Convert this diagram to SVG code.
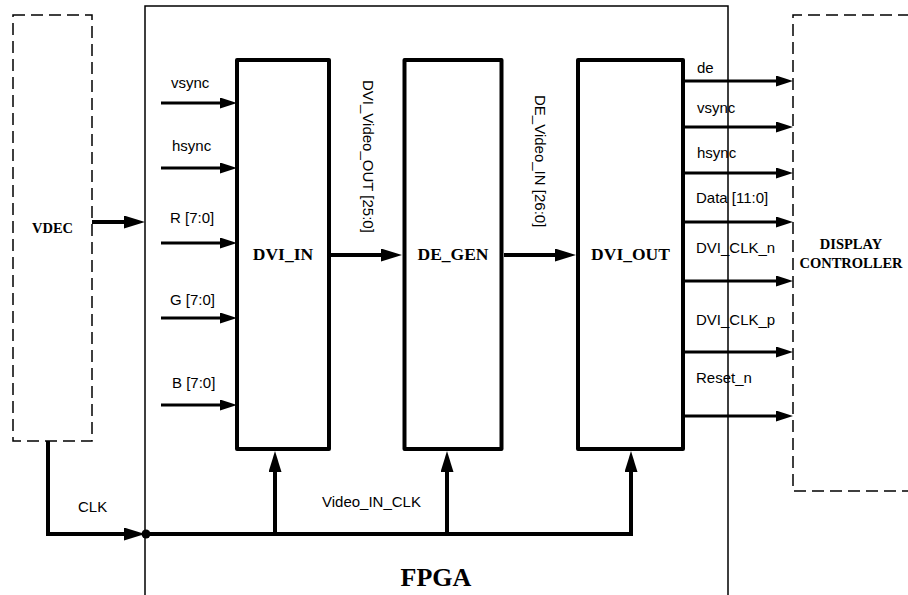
<svg xmlns="http://www.w3.org/2000/svg" width="908" height="595" viewBox="0 0 908 595">
<style>
.lbl{font-family:"Liberation Sans",Arial,sans-serif;font-size:15px;fill:#000}
.bt{font-family:"Liberation Serif","Times New Roman",serif;font-weight:bold;fill:#000}
.dash{fill:none;stroke:#000;stroke-width:1.5;stroke-dasharray:12 6}
.blk{fill:none;stroke:#000;stroke-width:4;stroke-linejoin:round}
.s{fill:none;stroke:#000;stroke-width:3;marker-end:url(#ms)}
.b{fill:none;stroke:#000;stroke-width:4;marker-end:url(#mb)}
.w{fill:none;stroke:#000;stroke-width:4}
</style>
<defs>
<marker id="ms" markerUnits="userSpaceOnUse" markerWidth="17" markerHeight="11" refX="1" refY="5.5" orient="auto"><path d="M0,0 L17,5.5 L0,11 Z" fill="#000"/></marker>
<marker id="mb" markerUnits="userSpaceOnUse" markerWidth="21" markerHeight="13" refX="1" refY="6.5" orient="auto"><path d="M0,0 L21,6.5 L0,13 Z" fill="#000"/></marker>
</defs>
<rect width="908" height="595" fill="#fff"/>

<g id="fpga">
<path d="M145,600 V6 H728 V600" fill="none" stroke="#000" stroke-width="1.5"/>
<text class="bt" x="436" y="586" font-size="26" text-anchor="middle">FPGA</text>
</g>

<g id="vdec">
<rect class="dash" x="13" y="15" width="79" height="426"/>
<text class="bt" x="52.5" y="233" font-size="14.5" text-anchor="middle">VDEC</text>
</g>

<g id="display">
<path class="dash" d="M910,15 H793 V491 H910"/>
<text class="bt" x="851" y="249" font-size="14.5" text-anchor="middle">DISPLAY</text>
<text class="bt" x="851" y="268" font-size="14.5" text-anchor="middle">CONTROLLER</text>
</g>

<g id="dvi_in">
<rect class="blk" x="237" y="60" width="92" height="389"/>
<text class="bt" x="283" y="260" font-size="17.5" text-anchor="middle">DVI_IN</text>
</g>

<g id="de_gen">
<rect class="blk" x="404.5" y="60" width="97" height="389"/>
<text class="bt" x="453" y="260" font-size="17.5" text-anchor="middle">DE_GEN</text>
</g>

<g id="dvi_out">
<rect class="blk" x="578" y="60" width="105" height="389"/>
<text class="bt" x="630.5" y="260" font-size="17.5" text-anchor="middle">DVI_OUT</text>
</g>

<g id="connectors">
<path class="s" d="M161,103 H221"/>
<path class="s" d="M161,168 H221"/>
<path class="s" d="M161,243 H221"/>
<path class="s" d="M161,318 H221"/>
<path class="s" d="M161,405 H221"/>

<path class="b" d="M92,222 H125"/>
<path class="b" d="M331,255 H382"/>
<path class="b" d="M504,255 H556"/>

<path class="s" d="M683,81 H777"/>
<path class="s" d="M683,127 H777"/>
<path class="s" d="M683,173 H777"/>
<path class="s" d="M683,222 H777"/>
<path class="s" d="M683,281 H777"/>
<path class="s" d="M683,352 H777"/>
<path class="s" d="M683,416 H777"/>

<path class="b" d="M48,441 V534 H125"/>
<path class="w" d="M146,534 H633"/>
<path class="b" d="M275,534 V471"/>
<path class="b" d="M447,534 V471"/>
<path class="b" d="M631,534 V471"/>
<circle cx="146" cy="534" r="4.5" fill="#000"/>

<text class="lbl" x="171" y="88">vsync</text>
<text class="lbl" x="172" y="151">hsync</text>
<text class="lbl" x="170" y="223">R [7:0]</text>
<text class="lbl" x="170" y="305">G [7:0]</text>
<text class="lbl" x="172" y="388">B [7:0]</text>

<text class="lbl" transform="translate(363,80) rotate(90)">DVI_Video_OUT [25:0]</text>
<text class="lbl" transform="translate(535,95) rotate(90)">DE_Video_IN [26:0]</text>

<text class="lbl" x="697" y="73">de</text>
<text class="lbl" x="697" y="113">vsync</text>
<text class="lbl" x="697" y="158">hsync</text>
<text class="lbl" x="696" y="203">Data [11:0]</text>
<text class="lbl" x="696" y="253">DVI_CLK_n</text>
<text class="lbl" x="696" y="325">DVI_CLK_p</text>
<text class="lbl" x="696" y="383">Reset_n</text>

<text class="lbl" x="78" y="512">CLK</text>
<text class="lbl" x="322" y="507">Video_IN_CLK</text>
</g>
</svg>
